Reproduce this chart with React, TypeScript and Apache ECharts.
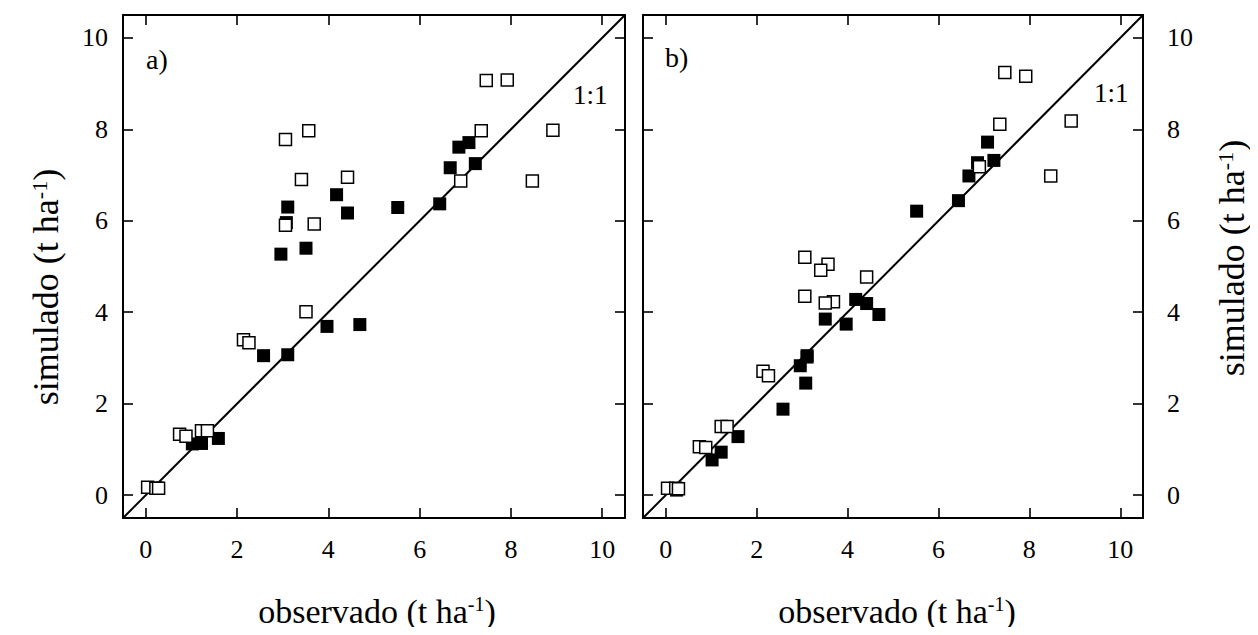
import React, { useEffect, useRef } from "react";
import * as echarts from "echarts";

// Open squares (observed, simulated a, simulated b)
const obsOpen = [7.46, 7.92, 8.92, 7.35, 8.47, 6.9, 3.06, 3.57, 3.41, 4.42, 3.06, 3.69, 3.51, 2.14, 2.26, 0.74, 0.88, 1.22, 1.35, 0.04, 0.22, 0.28];
const simOpenA = [9.07, 9.08, 7.98, 7.97, 6.87, 6.87, 7.78, 7.97, 6.9, 6.95, 5.9, 5.93, 4.01, 3.4, 3.33, 1.33, 1.29, 1.41, 1.41, 0.17, 0.15, 0.15];
const simOpenB = [9.24, 9.16, 8.18, 8.11, 6.98, 7.18, 5.2, 5.05, 4.92, 4.77, 4.35, 4.23, 4.2, 2.71, 2.61, 1.06, 1.04, 1.5, 1.5, 0.15, 0.15, 0.14];

// Filled squares (observed, simulated a, simulated b)
const obsFilled = [6.86, 7.08, 6.67, 7.22, 6.44, 5.52, 4.18, 4.42, 3.11, 3.08, 3.51, 2.96, 3.97, 4.69, 2.58, 3.11, 1.59, 1.22, 1.02, 0.24];
const simFilledA = [7.61, 7.71, 7.16, 7.25, 6.37, 6.29, 6.57, 6.17, 6.3, 5.96, 5.4, 5.27, 3.69, 3.73, 3.05, 3.07, 1.24, 1.13, 1.12, 0.15];
const simFilledB = [7.27, 7.72, 6.98, 7.32, 6.44, 6.21, 4.28, 4.19, 3.02, 2.45, 3.85, 2.83, 3.74, 3.95, 1.88, 3.05, 1.28, 0.94, 0.77, 0.11];

const tickValues = [0, 2, 4, 6, 8, 10];
const axisRange = [-0.5, 10.5];
const oneToOne = [[-0.5, -0.5], [10.5, 10.5]];

const FONT = "'Liberation Serif', 'Times New Roman', serif";
const TICK_FS = 26;
const XTITLE_FS = 34;
const YTITLE_FS = 36;

function pairs(xs: number[], ys: number[]) {
  return xs.map((x, i) => [x, ys[i]]);
}

function makeAxis(gridIndex: number, position: string, showLabels: boolean, margin: number) {
  return {
    type: "value",
    gridIndex,
    position,
    min: axisRange[0],
    max: axisRange[1],
    splitLine: { show: false },
    axisLine: { show: true, onZero: false, lineStyle: { color: "#000", width: 2 } },
    axisTick: {
      show: true,
      inside: true,
      length: 10,
      customValues: tickValues,
      lineStyle: { color: "#000", width: 1.6 },
    },
    axisLabel: {
      show: showLabels,
      customValues: tickValues,
      margin,
      color: "#000",
      fontSize: TICK_FS,
      fontFamily: FONT,
    },
  };
}

const supRich = (fs: number) => ({
  sup: { fontSize: Math.round(fs * 0.6), fontFamily: FONT, fill: "#000", verticalAlign: "top" },
});

export default function App() {
  const ref = useRef<HTMLDivElement>(null);
  useEffect(() => {
    if (!ref.current) return;
    const chart = echarts.init(ref.current, undefined, { renderer: "svg" });
    const lineSeries = (i: number) => ({
      type: "line",
      xAxisIndex: i,
      yAxisIndex: i,
      data: oneToOne,
      symbol: "none",
      lineStyle: { color: "#000", width: 2 },
      z: 1,
    });
    const filled = (i: number, ys: number[]) => ({
      type: "scatter",
      xAxisIndex: i,
      yAxisIndex: i,
      data: pairs(obsFilled, ys),
      symbol: "rect",
      symbolSize: 13,
      itemStyle: { color: "#000", opacity: 1 },
      z: 2,
    });
    const open = (i: number, ys: number[]) => ({
      type: "scatter",
      xAxisIndex: i,
      yAxisIndex: i,
      data: pairs(obsOpen, ys),
      symbol: "rect",
      symbolSize: 12,
      itemStyle: { color: "#fff", borderColor: "#000", borderWidth: 1.5, opacity: 1 },
      z: 3,
    });
    const textStyle = (text: string, fs: number) => ({
      text,
      fontSize: fs,
      fontFamily: FONT,
      fill: "#000",
      rich: supRich(fs),
    });
    chart.setOption({
      animation: false,
      backgroundColor: "#fff",
      textStyle: { fontFamily: FONT },
      grid: [
        { left: 123, top: 15, width: 502, height: 503 },
        { left: 643, top: 15, width: 500, height: 503 },
      ],
      xAxis: [
        makeAxis(0, "bottom", true, 18),
        makeAxis(1, "bottom", true, 18),
        makeAxis(0, "top", false, 8),
        makeAxis(1, "top", false, 8),
      ],
      yAxis: [
        makeAxis(0, "left", true, 15),
        makeAxis(1, "right", true, 24),
        makeAxis(0, "right", false, 8),
        makeAxis(1, "left", false, 8),
      ],
      series: [
        lineSeries(0),
        filled(0, simFilledA),
        open(0, simOpenA),
        lineSeries(1),
        filled(1, simFilledB),
        open(1, simOpenB),
      ],
      graphic: [
        { type: "text", left: 146, top: 45, style: textStyle("a)", 28) },
        { type: "text", left: 665, top: 43, style: textStyle("b)", 28) },
        { type: "text", left: 573, top: 81, style: textStyle("1:1", 27) },
        { type: "text", left: 1094, top: 79, style: textStyle("1:1", 27) },
        {
          type: "text",
          x: 377,
          y: 611,
          style: { ...textStyle("observado (t ha{sup|-1})", XTITLE_FS), align: "center", verticalAlign: "middle" },
        },
        {
          type: "text",
          x: 897,
          y: 611,
          style: { ...textStyle("observado (t ha{sup|-1})", XTITLE_FS), align: "center", verticalAlign: "middle" },
        },
        {
          type: "text",
          x: 46,
          y: 287,
          rotation: Math.PI / 2,
          style: { ...textStyle("simulado (t ha{sup|-1})", YTITLE_FS), align: "center", verticalAlign: "middle" },
        },
        {
          type: "text",
          x: 1232,
          y: 258,
          rotation: Math.PI / 2,
          style: { ...textStyle("simulado (t ha{sup|-1})", YTITLE_FS), align: "center", verticalAlign: "middle" },
        },
      ],
    });
    return () => chart.dispose();
  }, []);
  return <div ref={ref} style={{ width: 1258, height: 635, margin: -8 }} />;
}
